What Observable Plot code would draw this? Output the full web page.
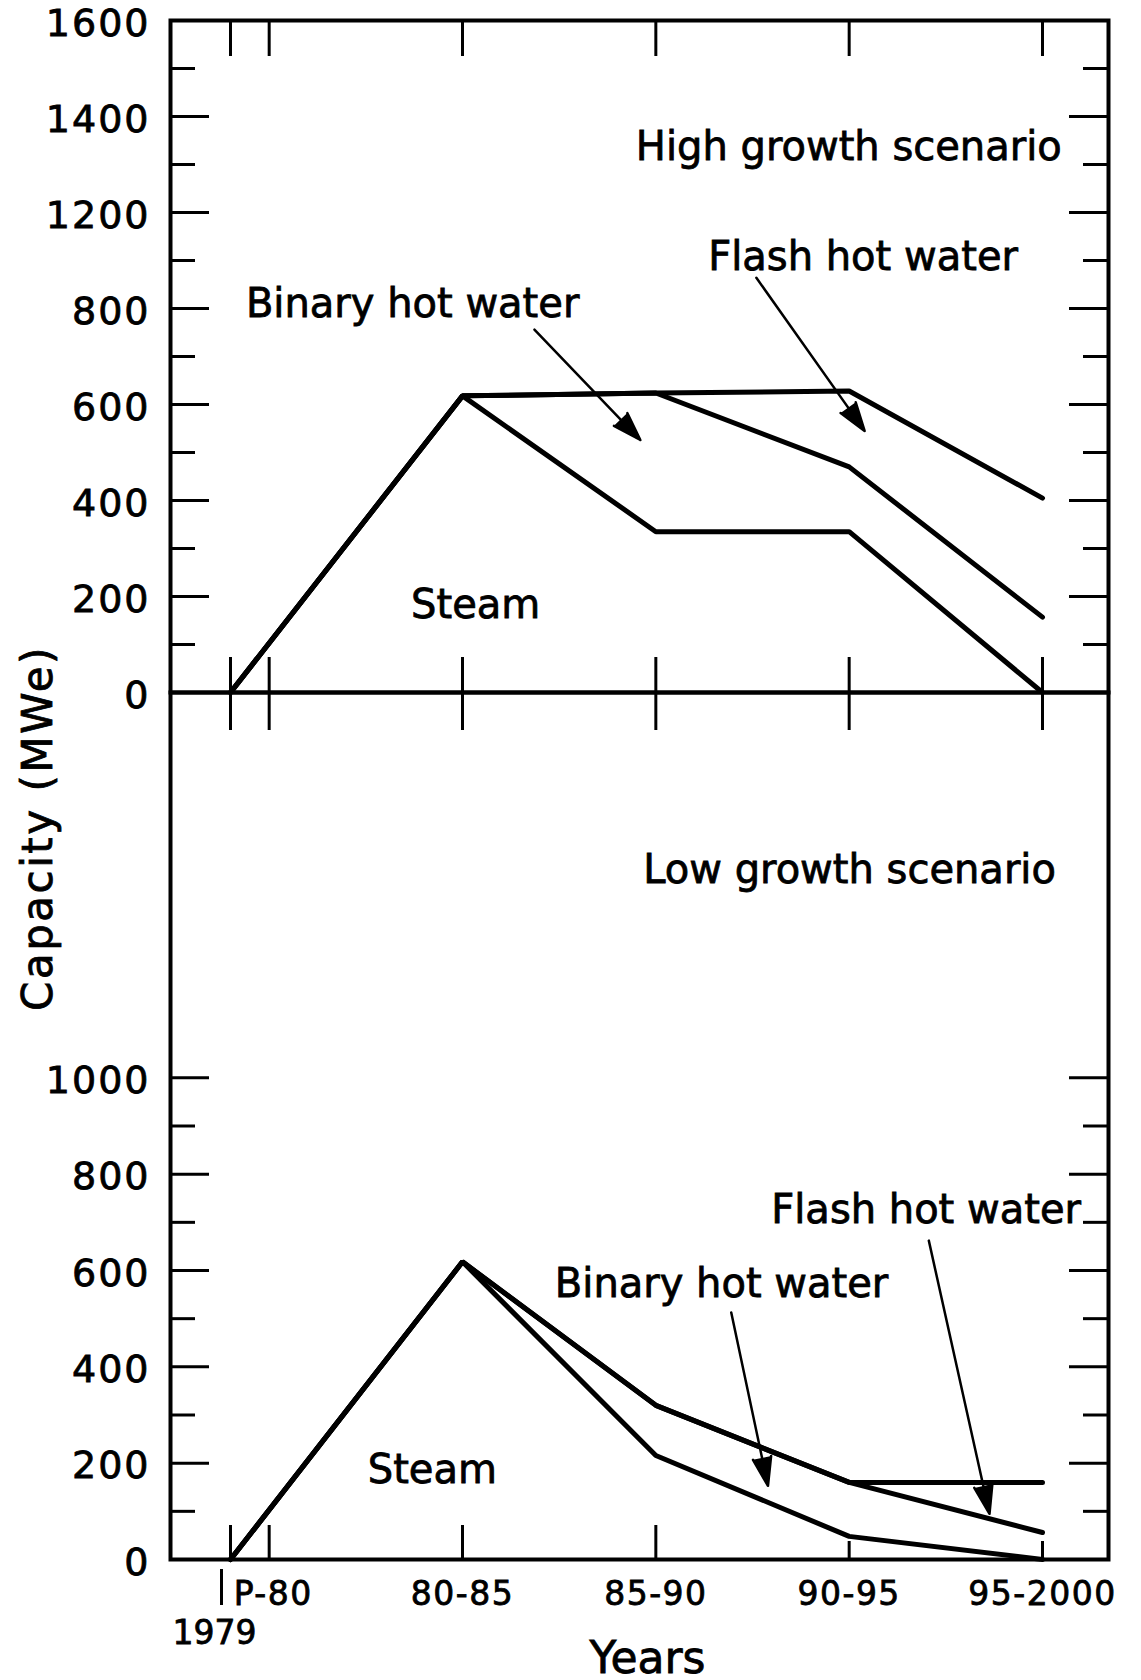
<!DOCTYPE html>
<html>
<head>
<meta charset="utf-8">
<script src="https://cdn.jsdelivr.net/npm/d3@7"></script>
<script src="https://cdn.jsdelivr.net/npm/@observablehq/plot@0.6"></script>
<style>
  html, body { margin: 0; padding: 0; background: #fff; }
  #chart { position: relative; width: 1141px; height: 1680px; background: #fff; color: #000;
           font-family: "DejaVu Sans", sans-serif; }
  #upper, #lower { position: absolute; left: 0; }
  #upper { top: 0; }
  #lower { top: 692px; }
  #ylabel { position: absolute; left: 37px; top: 828px; transform: translate(-50%, -50%) rotate(-90deg);
            font-size: 42px; letter-spacing: 2.5px; white-space: nowrap; -webkit-text-stroke: 0.8px #000; }
  #chart svg text { stroke: #000; stroke-width: 0.8px; }
  [aria-label="y-axis tick label"] text { font-size: 38px; letter-spacing: 2px; }
  [aria-label="x-axis tick label"] text { font-size: 33px; letter-spacing: 1.5px; }
  [aria-label="note"] text { letter-spacing: 0.6px; }
  [aria-label="title"] text { letter-spacing: 1.6px; }
</style>
</head>
<body>
<div id="chart">
  <div id="upper"></div>
  <div id="lower"></div>
  <div id="ylabel">Capacity (MWe)</div>
</div>
<script>
// ---------------- data ----------------
const periodYears = [1979, 1985, 1990, 1995, 2000];
const types = ["Steam", "Binary hot water", "Flash hot water"];

// High growth scenario (capacity added by each type, MWe)
const highSteam  = [0, 618, 335, 335, 0];
const highBinary = [0, 0, 289, 135, 157];
const highFlash  = [0, 0, 0, 158, 248];

// Low growth scenario
const lowSteam  = [0, 618, 216, 48, 0];
const lowBinary = [0, 0, 104, 112, 56];
const lowFlash  = [0, 0, 0, 0, 104];

// x ticks
const xTickYears  = [1979, 1980, 1985, 1990, 1995, 2000];
const xTickLabels = ["1979", "P-80", "80-85", "85-90", "90-95", "95-2000"];

// y ticks (upper panel labels as printed, 1000 is skipped in the original)
const highTickValues = [0, 200, 400, 600, 800, 1000, 1200, 1400];
const highTickLabels = ["0", "200", "400", "600", "800", "1200", "1400", "1600"];
const highMajor = [200, 400, 600, 800, 1000, 1200];
const highMinor = [100, 300, 500, 700, 900, 1100, 1300];

const lowTickValues = [0, 200, 400, 600, 800, 1000];
const lowTickLabels = ["0", "200", "400", "600", "800", "1000"];
const lowMajor = [200, 400, 600, 800, 1000];
const lowMinor = [100, 300, 500, 700, 900];

// annotations (data coordinates)
const highNotes = [
  {label: "Binary hot water", year: 1983.71, value: 810},
  {label: "Flash hot water",  year: 1995.36, value: 906},
  {label: "Steam",            year: 1985.34, value: 182}
];
const highTitle = [{label: "High growth scenario", year: 1994.99, value: 1137}];
const highArrows = [
  {x1: 1986.86, y1: 756, x2: 1989.60, y2: 526},
  {x1: 1992.60, y1: 864, x2: 1995.40, y2: 545}
];
const lowNotes = [
  {label: "Binary hot water", year: 1991.70, value: 571},
  {label: "Flash hot water",  year: 1996.99, value: 725},
  {label: "Steam",            year: 1984.22, value: 185}
];
const lowTitle = [{label: "Low growth scenario", year: 1995.01, value: 1432}];
const lowArrows = [
  {x1: 1991.95, y1: 513, x2: 1992.90, y2: 153},
  {x1: 1997.06, y1: 662, x2: 1998.63, y2: 95}
];

// ---------------- helpers ----------------
function rows(seriesList) {
  return types.flatMap((t, k) => periodYears.map((yr, i) => ({year: yr, type: t, value: seriesList[k][i]})));
}
const highRows = rows([highSteam, highBinary, highFlash]);
const lowRows  = rows([lowSteam, lowBinary, lowFlash]);
const highLabelMap = new Map(highTickValues.map((v, i) => [v, highTickLabels[i]]));
const lowLabelMap  = new Map(lowTickValues.map((v, i) => [v, lowTickLabels[i]]));
const xLabelMap    = new Map(xTickYears.map((v, i) => [v, xTickLabels[i]]));

const W = 1141, ML = 170, MR = 33;
const PW = W - ML - MR;
const xDomain = [1977.448, 2001.707];
const font = {fontFamily: "DejaVu Sans, sans-serif", background: "transparent", overflow: "visible", color: "black"};
const MAJ = 39, MIN = 25;

const lineOpts = {x: "year", y: "value", z: "type", stroke: "black", strokeWidth: 5, strokeLinejoin: "miter"};
const arrowOpts = {x1: "x1", y1: "y1", x2: "x2", y2: "y2", strokeWidth: 2.5, headAngle: 36, headLength: 18, fill: "black", stroke: "black"};

// ---------------- upper panel ----------------
const H1 = 732, MT1 = 20, MB1 = 40, PH1 = H1 - MT1 - MB1;
const upper = Plot.plot({
  width: W, height: H1, marginTop: MT1, marginBottom: MB1, marginLeft: ML, marginRight: MR,
  x: {domain: xDomain, axis: null, label: null},
  y: {domain: [0, 1400], label: null},
  style: font,
  marks: [
    Plot.frame({strokeWidth: 4}),
    Plot.tickY(highMajor, {insetRight: PW - MAJ, strokeWidth: 3}),
    Plot.tickY(highMinor, {insetRight: PW - MIN, strokeWidth: 3}),
    Plot.tickY(highMajor, {insetLeft: PW - MAJ, strokeWidth: 3}),
    Plot.tickY(highMinor, {insetLeft: PW - MIN, strokeWidth: 3}),
    Plot.tickX(xTickYears, {insetBottom: PH1 - 36, strokeWidth: 3}),
    Plot.tickX(xTickYears, {insetTop: PH1 - 35, insetBottom: -38, strokeWidth: 3}),
    Plot.axisY(highTickValues, {anchor: "left", tickSize: 0, tickPadding: 20, dy: 3, label: null,
      tickFormat: d => highLabelMap.get(d), fontSize: 38}),
    Plot.lineY(highRows, Plot.stackY2(lineOpts)),
    Plot.arrow(highArrows, arrowOpts),
    Plot.text(highNotes, {x: "year", y: "value", text: "label", fontSize: 40, ariaLabel: "note"}),
    Plot.text(highTitle, {x: "year", y: "value", text: "label", fontSize: 40, ariaLabel: "title"})
  ]
});
document.getElementById("upper").appendChild(upper);

// ---------------- lower panel ----------------
const H2 = 988, MT2 = 0, MB2 = 121, PH2 = H2 - MT2 - MB2;
const lower = Plot.plot({
  width: W, height: H2, marginTop: MT2, marginBottom: MB2, marginLeft: ML, marginRight: MR,
  x: {domain: xDomain, label: null},
  y: {domain: [0, 1800], label: null},
  style: font,
  marks: [
    Plot.frame({strokeWidth: 4}),
    Plot.tickY(lowMajor, {insetRight: PW - MAJ, strokeWidth: 3}),
    Plot.tickY(lowMinor, {insetRight: PW - MIN, strokeWidth: 3}),
    Plot.tickY(lowMajor, {insetLeft: PW - MAJ, strokeWidth: 3}),
    Plot.tickY(lowMinor, {insetLeft: PW - MIN, strokeWidth: 3}),
    Plot.tickX(xTickYears.slice(0, 4), {insetTop: PH2 - 34, strokeWidth: 3}),
    Plot.tickX(xTickYears.slice(4), {insetTop: PH2 - 18, strokeWidth: 3}),
    Plot.tickX(xTickYears.slice(0, 1), {insetTop: PH2 + 10, insetBottom: -46, dx: -9, strokeWidth: 3}),
    Plot.axisY(lowTickValues, {anchor: "left", tickSize: 0, tickPadding: 20, dy: 3, label: null,
      tickFormat: d => lowLabelMap.get(d), fontSize: 38}),
    Plot.axisX(xTickYears.slice(1, 2), {anchor: "bottom", tickSize: 0, tickPadding: 22, dx: 4, label: null,
      tickFormat: d => xLabelMap.get(d), fontSize: 33}),
    Plot.axisX(xTickYears.slice(2), {anchor: "bottom", tickSize: 0, tickPadding: 22, label: null,
      tickFormat: d => xLabelMap.get(d), fontSize: 33}),
    Plot.text(xTickYears.slice(0, 1), {x: d => d, text: d => xLabelMap.get(d), frameAnchor: "bottom",
      dy: 84, dx: -16, fontSize: 33, ariaLabel: "x-axis tick label"}),
    Plot.text(["Years"], {frameAnchor: "bottom", dy: 113, dx: 8, fontSize: 44, text: d => d, ariaLabel: "axis title"}),
    Plot.lineY(lowRows, Plot.stackY2(lineOpts)),
    Plot.arrow(lowArrows, arrowOpts),
    Plot.text(lowNotes, {x: "year", y: "value", text: "label", fontSize: 40, ariaLabel: "note"}),
    Plot.text(lowTitle, {x: "year", y: "value", text: "label", fontSize: 40, ariaLabel: "title"})
  ]
});
document.getElementById("lower").appendChild(lower);
</script>
</body>
</html>
